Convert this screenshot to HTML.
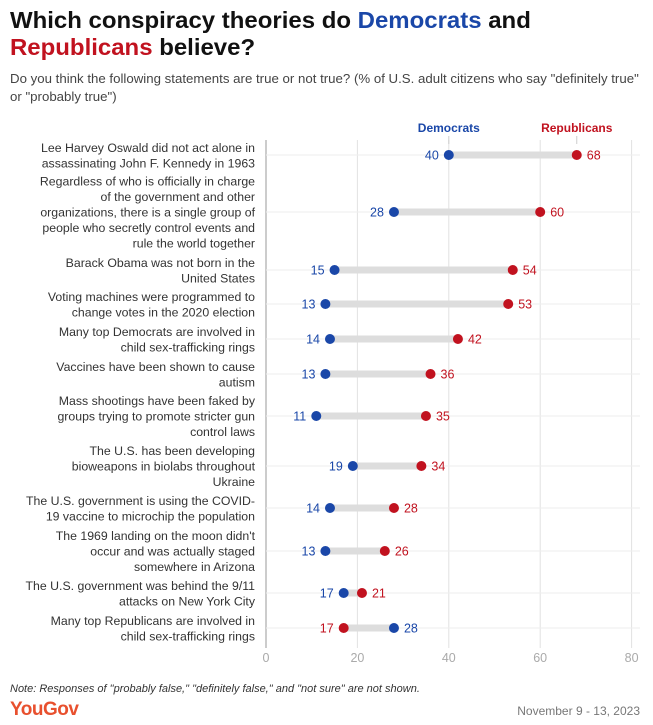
<!DOCTYPE html>
<html><head><meta charset="utf-8"><style>
body{margin:0;background:#fff;font-family:"Liberation Sans",sans-serif;}
#wrap{position:relative;width:653px;height:725px;overflow:hidden;}
.t{position:absolute;white-space:nowrap;}
</style></head><body>
<div id="wrap">
<div class="t" style="left:10px;top:7px;font-size:23.5px;font-weight:bold;line-height:27px;color:#111;transform:scaleX(1.02);transform-origin:left top;">Which conspiracy theories do <span style="color:#1a47a8">Democrats</span> and<br><span style="color:#c1121f">Republicans</span> believe?</div>
<div class="t" style="left:10px;top:70px;font-size:12.5px;line-height:18px;color:#444;transform:scaleX(1.06);transform-origin:left top;">Do you think the following statements are true or not true? (% of U.S. adult citizens who say "definitely true"<br>or "probably true")</div>
<svg id="svg" width="653" height="725" style="position:absolute;left:0;top:0"></svg>
<div class="t" style="left:10px;top:683px;font-size:11px;font-style:italic;color:#333;">Note: Responses of "probably false," "definitely false," and "not sure" are not shown.</div>
<div class="t" style="left:10px;top:699px;font-size:19px;font-weight:bold;color:#e8502e;letter-spacing:-0.5px;">YouGov</div>
<div class="t" style="right:13px;top:704px;font-size:12px;color:#777;">November 9 - 13, 2023</div>
</div>
<script>
const labels=[
["Lee Harvey Oswald did not act alone in","assassinating John F. Kennedy in 1963"],
["Regardless of who is officially in charge","of the government and other","organizations, there is a single group of","people who secretly control events and","rule the world together"],
["Barack Obama was not born in the","United States"],
["Voting machines were programmed to","change votes in the 2020 election"],
["Many top Democrats are involved in","child sex-trafficking rings"],
["Vaccines have been shown to cause","autism"],
["Mass shootings have been faked by","groups trying to promote stricter gun","control laws"],
["The U.S. has been developing","bioweapons in biolabs throughout","Ukraine"],
["The U.S. government is using the COVID-","19 vaccine to microchip the population"],
["The 1969 landing on the moon didn't","occur and was actually staged","somewhere in Arizona"],
["The U.S. government was behind the 9/11","attacks on New York City"],
["Many top Republicans are involved in","child sex-trafficking rings"]];
const dem=[40,28,15,13,14,13,11,19,14,13,17,28];
const rep=[68,60,54,53,42,36,35,34,28,26,21,17];
const rowY=[155,212,270,304,339,374,416,466,508,551,593,628];
const ticks=[0,20,40,60,80];
const X=v=>266+v*4.57;
const svg=document.getElementById('svg');const NS='http://www.w3.org/2000/svg';
function mk(t,a,txt){const e=document.createElementNS(NS,t);for(const k in a)e.setAttribute(k,a[k]);if(txt!=null)e.textContent=txt;svg.appendChild(e);return e;}
ticks.forEach(t=>{if(t>0){const g=mk('line',{x1:X(t),x2:X(t),y1:140,y2:648,stroke:'#e2e2e2','stroke-width':1});

}
const l=mk('text',{x:X(t),y:662,'text-anchor':'middle','font-size':12.5,fill:'#aaa','font-family':'Liberation Sans'},t);

});
const ax=mk('line',{x1:266,x2:266,y1:140,y2:648,stroke:'#999','stroke-width':1});


const ld=mk('text',{x:X(40),y:132,'text-anchor':'middle','font-size':12,'font-weight':'bold',fill:'#1a47a8','font-family':'Liberation Sans'},'Democrats');


const lr=mk('text',{x:X(68),y:132,'text-anchor':'middle','font-size':12,'font-weight':'bold',fill:'#c1121f','font-family':'Liberation Sans'},'Republicans');


[40,68].forEach(v=>mk('line',{x1:X(v),x2:X(v),y1:136,y2:144,stroke:'#ccc'}));
labels.forEach((ls,i)=>{const y=rowY[i];
mk('line',{x1:266,x2:640,y1:y,y2:y,stroke:'#eee','stroke-width':1});
const n=ls.length;ls.forEach((s,j)=>{const tx=mk('text',{x:255,y:y+4.5+(j-(n-1)/2)*15.5,'text-anchor':'end','font-size':12.3,fill:'#333','font-family':'Liberation Sans'},s);

});
const a=Math.min(dem[i],rep[i]),b=Math.max(dem[i],rep[i]);
const bar=mk('line',{x1:X(a),x2:X(b),y1:y,y2:y,stroke:'#ddd','stroke-width':7});


[[dem[i],'#1a47a8','dem'],[rep[i],'#c1121f','rep']].forEach(([v,c,k])=>{
const other=k=='dem'?rep[i]:dem[i];const left=v<other;
const d=mk('circle',{cx:X(v),cy:y,r:5,fill:c});


const t=mk('text',{x:left?X(v)-10:X(v)+10,y:y+4.5,'text-anchor':left?'end':'start','font-size':12.5,fill:c,'font-family':'Liberation Sans'},v);

});});
</script>
</body></html>
